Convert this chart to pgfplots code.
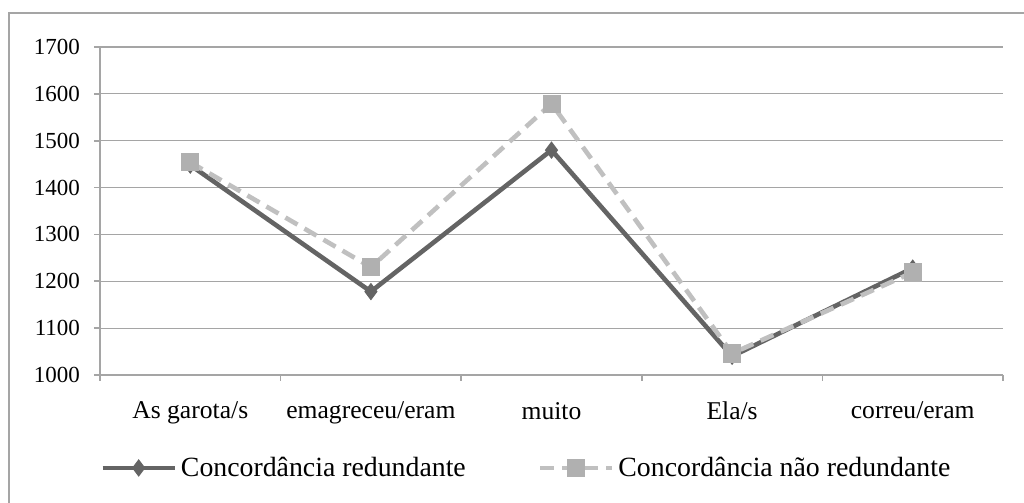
\documentclass[border=0pt]{standalone}
\usepackage{pgfplots}
\pgfplotsset{compat=1.18}
\usepackage{fontspec}
\setmainfont{Liberation Serif}
\definecolor{darkline}{RGB}{100,100,100}
\definecolor{lightline}{RGB}{192,192,192}
\definecolor{sqfill}{RGB}{176,176,176}
\definecolor{gridc}{RGB}{165,165,165}
\begin{document}
\begin{tikzpicture}
\useasboundingbox (-50pt,-64pt) rectangle (462pt,187.5pt);
\draw[gridc, line width=0.6pt] (-45.5pt,-70pt) -- (-45.5pt,181pt) -- (470pt,181pt);
\begin{axis}[
  scale only axis,
  width=451.5pt, height=164pt,
  xmin=0.5, xmax=5.5,
  ymin=1000, ymax=1700,
  ytick={1000,1100,...,1700},
  xtick={1,2,3,4,5},
  xticklabels={As garota/s, emagreceu/eram, muito, Ela/s, correu/eram},
  minor xtick={0.5,1.5,2.5,3.5,4.5,5.5},
  axis x line*=bottom,
  axis y line*=left,
  axis line style={gridc, line width=0.8pt},
  every major x tick/.append style={draw=none},
  every minor x tick/.append style={gridc, line width=0.8pt},
  every major y tick/.append style={gridc, line width=0.8pt},
  major tick length=3pt,
  minor tick length=3pt,
  tick align=outside,
  ymajorgrids,
  grid style={gridc, line width=0.6pt},
  tick label style={text=black},
  /pgf/number format/assume math mode=true,
  /pgf/number format/1000 sep={},
  yticklabel style={xshift=-3.5pt, font=\fontsize{11.5}{13}\selectfont},
  xticklabel style={yshift=-7pt, font=\fontsize{12.8}{14}\selectfont},
  legend columns=2,
  legend style={at={(0,-0.2835)}, anchor=west, draw=none, fill=none,
     font=\fontsize{13.9}{15}\selectfont, inner xsep=0pt,
     /tikz/every even column/.append style={column sep=34pt}},
  legend cell align=left,
  legend image code/.code={
    \draw[mark repeat=2,mark phase=2,#1] plot coordinates {(0pt,0pt) (18pt,0pt) (36pt,0pt)};
  },
]
\addplot[darkline, line width=2.3pt, mark=diamond*, mark size=4pt,
  mark options={solid, fill=darkline, draw=darkline, line width=0.5pt}]
  coordinates {(1,1448) (2,1178) (3,1480) (4,1040) (5,1228)};
\addlegendentry{Concordância redundante}
\addplot[lightline, line width=2.3pt, dash pattern=on 7pt off 4pt, mark=square*, mark size=4.3pt,
  mark options={solid, fill=sqfill, draw=sqfill, line width=0.4pt}]
  coordinates {(1,1454) (2,1230) (3,1579) (4,1046) (5,1219)};
\addlegendentry{Concordância não redundante}
\end{axis}
\end{tikzpicture}
\end{document}
